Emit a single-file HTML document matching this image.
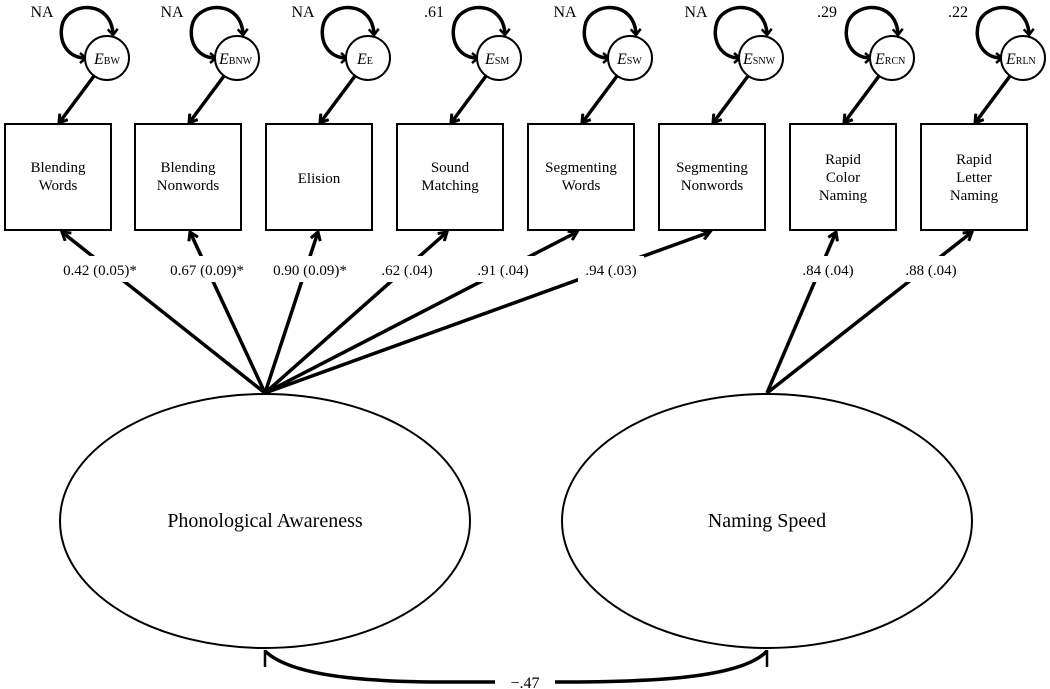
<!DOCTYPE html>
<html><head><meta charset="utf-8"><style>
html,body{margin:0;padding:0;background:#fff;}
svg{display:block;font-family:"Liberation Serif",serif;}
</style></head><body>
<svg width="1050" height="689" viewBox="0 0 1050 689" xmlns="http://www.w3.org/2000/svg">
<defs>
<marker id="a" markerWidth="12" markerHeight="12" refX="9" refY="6" orient="auto" markerUnits="userSpaceOnUse">
<path d="M1,1 L9,6 L1,11" fill="none" stroke="#000" stroke-width="3"/>
</marker>
<marker id="as" markerWidth="12" markerHeight="12" refX="6" refY="6" orient="auto-start-reverse" markerUnits="userSpaceOnUse">
<path d="M1,1 L7,6 L1,11" fill="none" stroke="#000" stroke-width="2.5"/>
</marker>
</defs>
<g stroke="#000" fill="none">
<!-- factor loadings PA -->
<g stroke-width="3.5">
<line x1="265" y1="393" x2="62" y2="232" marker-end="url(#a)"/>
<line x1="265" y1="393" x2="190" y2="232" marker-end="url(#a)"/>
<line x1="265" y1="393" x2="318" y2="232" marker-end="url(#a)"/>
<line x1="265" y1="393" x2="447" y2="232" marker-end="url(#a)"/>
<line x1="265" y1="393" x2="577" y2="232" marker-end="url(#a)"/>
<line x1="265" y1="393" x2="710" y2="232" marker-end="url(#a)"/>
<line x1="767" y1="393" x2="836" y2="232" marker-end="url(#a)"/>
<line x1="767" y1="393" x2="972" y2="232" marker-end="url(#a)"/>
</g>
</g>
<!-- label backgrounds -->
<g fill="#fff">
<rect x="50" y="256" width="100" height="26"/>
<rect x="160" y="256" width="93" height="26"/>
<rect x="267" y="256" width="86" height="26"/>
<rect x="376" y="256" width="62" height="26"/>
<rect x="472" y="256" width="63" height="26"/>
<rect x="578" y="256" width="66" height="26"/>
<rect x="797" y="256" width="62" height="26"/>
<rect x="900" y="256" width="62" height="26"/>
</g>
<g font-size="15" fill="#000" text-anchor="middle">
<text x="100" y="275">0.42 (0.05)*</text>
<text x="207" y="275">0.67 (0.09)*</text>
<text x="310" y="275">0.90 (0.09)*</text>
<text x="407" y="275">.62 (.04)</text>
<text x="503" y="275">.91 (.04)</text>
<text x="611" y="275">.94 (.03)</text>
<text x="828" y="275">.84 (.04)</text>
<text x="931" y="275">.88 (.04)</text>
</g>
<!-- boxes -->
<g stroke="#000" stroke-width="2" fill="#fff">
<rect x="5" y="124" width="106" height="106"/>
<rect x="135" y="124" width="106" height="106"/>
<rect x="266" y="124" width="106" height="106"/>
<rect x="397" y="124" width="106" height="106"/>
<rect x="528" y="124" width="106" height="106"/>
<rect x="659" y="124" width="106" height="106"/>
<rect x="790" y="124" width="106" height="106"/>
<rect x="921" y="124" width="106" height="106"/>
</g>
<g font-size="15" fill="#000" text-anchor="middle">
<text x="58" y="172">Blending</text><text x="58" y="190">Words</text>
<text x="188" y="172">Blending</text><text x="188" y="190">Nonwords</text>
<text x="319" y="183">Elision</text>
<text x="450" y="172">Sound</text><text x="450" y="190">Matching</text>
<text x="581" y="172">Segmenting</text><text x="581" y="190">Words</text>
<text x="712" y="172">Segmenting</text><text x="712" y="190">Nonwords</text>
<text x="843" y="164">Rapid</text><text x="843" y="182">Color</text><text x="843" y="200">Naming</text>
<text x="974" y="164">Rapid</text><text x="974" y="182">Letter</text><text x="974" y="200">Naming</text>
</g>
<!-- error terms -->
<g id="errs">
</g>
<g stroke="#000" fill="none">
<g id="e1" transform="translate(107,0)">
<path d="M-22,58 C-40,58 -50,40 -44,22 C-36,2 4,0 6,34" stroke-width="3.5" marker-start="url(#as)" marker-end="url(#as)"/>
<line x1="-13" y1="76" x2="-48" y2="123" stroke-width="3.5" marker-end="url(#a)"/>
<circle cx="0" cy="58" r="22" fill="#fff" stroke-width="2"/>
</g>
<use href="#e1" x="130"/>
<use href="#e1" x="261"/>
<use href="#e1" x="392"/>
<use href="#e1" x="523"/>
<use href="#e1" x="654"/>
<use href="#e1" x="785"/>
<use href="#e1" x="916"/>
</g>
<g fill="#000" font-size="15">
<g font-size="16" text-anchor="middle">
<text x="42" y="17">NA</text><text x="172" y="17">NA</text><text x="303" y="17">NA</text>
<text x="434" y="17">.61</text><text x="565" y="17">NA</text><text x="696" y="17">NA</text>
<text x="827" y="17">.29</text><text x="958" y="17">.22</text>
</g>
<g font-size="16">
<text x="94" y="64"><tspan font-style="italic">E</tspan><tspan font-size="10">BW</tspan></text>
<text x="219" y="64"><tspan font-style="italic">E</tspan><tspan font-size="10">BNW</tspan></text>
<text x="357" y="64"><tspan font-style="italic">E</tspan><tspan font-size="10">E</tspan></text>
<text x="485" y="64"><tspan font-style="italic">E</tspan><tspan font-size="10">SM</tspan></text>
<text x="617" y="64"><tspan font-style="italic">E</tspan><tspan font-size="10">SW</tspan></text>
<text x="743" y="64"><tspan font-style="italic">E</tspan><tspan font-size="10">SNW</tspan></text>
<text x="875" y="64"><tspan font-style="italic">E</tspan><tspan font-size="10">RCN</tspan></text>
<text x="1006" y="64"><tspan font-style="italic">E</tspan><tspan font-size="10">RLN</tspan></text>
</g>
</g>
<!-- latent factors -->
<g stroke="#000" stroke-width="2" fill="none">
<ellipse cx="265" cy="521" rx="205" ry="127"/>
<ellipse cx="767" cy="521" rx="205" ry="127"/>
</g>
<g font-size="20" fill="#000" text-anchor="middle">
<text x="265" y="527">Phonological Awareness</text>
<text x="767" y="527">Naming Speed</text>
</g>
<!-- correlation -->
<path d="M265,651 C300,685 420,682 495,682 M555,682 C640,682 740,680 767,651" stroke="#000" stroke-width="3.5" fill="none"/>
<line x1="265" y1="650" x2="265" y2="667" stroke="#000" stroke-width="2.5"/>
<line x1="767" y1="650" x2="767" y2="667" stroke="#000" stroke-width="2.5"/>
<text x="525" y="688" font-size="16" text-anchor="middle" fill="#000">−.47</text>
</svg>
</body></html>
